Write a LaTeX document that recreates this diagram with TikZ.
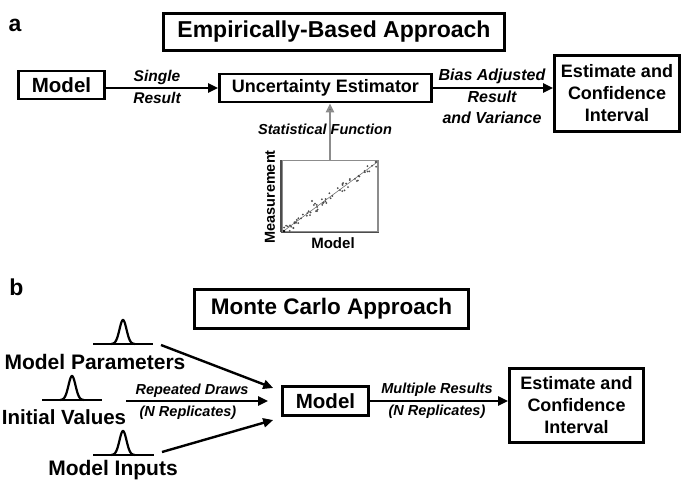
\documentclass[tikz,border=0pt]{standalone}
\usepackage{fontspec}
\setmainfont{Liberation Sans}
\usetikzlibrary{arrows.meta}
\newcommand\mytitlefont{\fontsize{23}{27}\selectfont\bfseries}
\newcommand\myboxfont{\fontsize{20.5}{24}\selectfont\bfseries}
\newcommand\mymidfont{\fontsize{18}{22}\selectfont\bfseries}
\newcommand\mylabfont{\fontsize{15.5}{19}\selectfont\bfseries\itshape}
\newcommand\mysmlfont{\fontsize{14.5}{18}\selectfont\bfseries\itshape}
\begin{document}
\begin{tikzpicture}[x=1pt,y=-1pt,
  box/.style={draw, line width=2.6pt, align=center, inner sep=0pt},
  arr/.style={line width=2.4pt, -{Triangle[length=10pt,width=9pt]}},
  grayarr/.style={line width=2.4pt, draw=black!45, -{Triangle[length=9pt,width=8pt,fill=black!75]}},
  lab/.style={font=\mylabfont, inner sep=0pt},
  sml/.style={font=\mysmlfont, inner sep=0pt},
  bell/.style={line width=2.2pt},
  panel/.style={font=\mytitlefont, inner sep=0pt}]
\useasboundingbox (0,0) rectangle (683,480);

% ---------- panel a ----------
\node[panel] (la) at (15,25) {a};
\node[box, font=\mytitlefont, minimum width=341pt, minimum height=37pt] (T1) at (334,32) {Empirically-Based Approach};
\node[box, font=\myboxfont, minimum width=86pt, minimum height=28pt] (M1) at (61.5,85) {Model};
\node[box, font=\mymidfont, minimum width=212pt, minimum height=28pt] (U) at (325.5,88) {Uncertainty Estimator};
\node[box, font=\mymidfont, minimum width=125pt, minimum height=76pt] (E1) at (617,93.5) {Estimate and\\Confidence\\Interval};

\draw[arr] (M1.east |- U.west) -- (U.west);
\draw[arr] (U.east) -- (U.east -| E1.west);
\node[lab] (s1) at (157,77.5) {Single};
\node[lab] (s2) at (157,97.5) {Result};
\node[lab, font=\fontsize{16}{19}\selectfont\bfseries\itshape] (b1) at (492,76) {Bias Adjusted};
\node[lab, font=\fontsize{16}{19}\selectfont\bfseries\itshape] (b2) at (492,97) {Result};
\node[lab, font=\fontsize{16}{19}\selectfont\bfseries\itshape] (b3) at (492,118) {and Variance};

% scatter plot
\node[draw=black!45, line width=1.8pt, minimum width=96pt, minimum height=71pt, inner sep=0pt] (P) at (330,196) {};
\draw[black!70, line width=1.6pt] (P.south west) -- (P.north west);
\draw[black!70, line width=1.6pt] (P.south west) -- (P.south east);
\draw[grayarr] (P.north) -- (P.north |- U.south);
\node[sml] (sf) at (325,129) {Statistical Function};
\draw[black!55, line width=0.6pt] (285,230) -- (376,163);
\pgfmathsetseed{7}
\foreach \i in {1,...,60} {
  \pgfmathsetmacro\tt{rnd}
  \pgfmathsetmacro\nn{3*rand}
  \fill[black!70] ({285+91*\tt+0.6*\nn},{230-67*\tt+\nn}) circle (1pt);
}
\fill[black!70] (317,211) circle (1.1pt);
\fill[black!70] (312,201) circle (1.1pt);
\fill[black!70] (340,190) circle (1pt);
\fill[black] (284,231) circle (1.4pt);
\fill[black!70] (376,162) circle (1.3pt);
\node[font=\fontsize{14.5}{17}\selectfont\bfseries, rotate=90, inner sep=0pt] (ym) at (270,197) {Measurement};
\node[font=\fontsize{15}{18}\selectfont\bfseries, inner sep=0pt] (xm) at (333,243) {Model};

% ---------- panel b ----------
\node[panel] (lb) at (16.5,287) {b};
\node[box, font=\fontsize{22.5}{26}\selectfont\bfseries, minimum width=274pt, minimum height=39pt] (T2) at (331.5,309) {Monte Carlo Approach};
\node[box, font=\myboxfont, minimum width=86pt, minimum height=29pt] (M2) at (325.5,401) {Model};
\node[box, font=\mymidfont, minimum width=134pt, minimum height=74pt] (E2) at (576.5,405.5) {Estimate and\\Confidence\\Interval};

% distributions
\draw[bell] (93,344) -- (153,344);
\draw[bell] plot[domain=-12:12, samples=41, smooth] ({123+\x},{344-24*exp(-(\x/5)^2)});
\draw[bell] (42,400) -- (102,400);
\draw[bell] plot[domain=-12:12, samples=41, smooth] ({72+\x},{400-24*exp(-(\x/5)^2)});
\draw[bell] (93,455) -- (154,455);
\draw[bell] plot[domain=-12:12, samples=41, smooth] ({123+\x},{455-24*exp(-(\x/5)^2)});

\node[font=\fontsize{21}{24}\selectfont\bfseries, inner sep=0pt] (mp) at (95,362) {Model Parameters};
\node[font=\fontsize{20.5}{24}\selectfont\bfseries, inner sep=0pt] (iv) at (64,417) {Initial Values};
\node[font=\fontsize{21}{24}\selectfont\bfseries, inner sep=0pt] (mi) at (113,470) {Model Inputs};

\coordinate (a1) at (161,345);
\coordinate (a2) at (126,401);
\coordinate (a3) at (162,452);
\draw[arr] (a1) -- ([shift={(-8pt,13pt)}]M2.west);
\draw[arr] (a2) -- ([shift={(-13pt,0pt)}]M2.west);
\draw[arr] (a3) -- ([shift={(-8pt,-19pt)}]M2.west);
\node[sml] (rd) at (192,391) {Repeated Draws};
\node[sml] (nr1) at (188,413) {(N Replicates)};

\draw[arr] (M2.east) -- (M2.east -| E2.west);
\node[sml] (mr) at (437,390) {Multiple Results};
\node[sml] (nr2) at (437,412) {(N Replicates)};
\end{tikzpicture}
\end{document}
